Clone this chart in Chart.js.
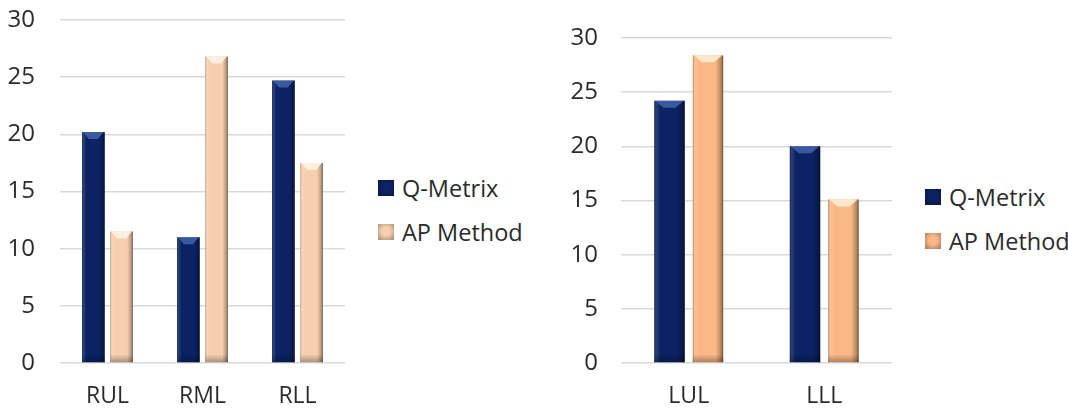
<!DOCTYPE html>
<html>
<head>
<meta charset="utf-8">
<script src="https://cdn.jsdelivr.net/npm/chart.js@4/dist/chart.umd.min.js"></script>
<style>
  html, body { margin: 0; padding: 0; background: #fff; }
  #wrap { position: relative; width: 1068px; height: 413px; overflow: hidden; font-family: 'Open Sans', sans-serif; color: #2b2b2b; }
  .box { position: absolute; top: 0; height: 413px; }
  .legend { position: absolute; font-size: 23.5px; line-height: 30px; }
  .legend div { position: relative; height: 30px; padding-left: 24px; white-space: nowrap; }
  .legend span { position: absolute; left: 0; top: 7px; width: 16px; height: 16px; }
</style>
</head>
<body>
<div id="wrap">
  <div class="box" style="left:0;width:360px"><canvas id="chartRight"></canvas></div>
  <div class="box" style="left:555px;width:350px"><canvas id="chartLeft"></canvas></div>
  <div class="legend" id="legendRight" style="left:378px;top:173px"></div>
  <div class="legend" id="legendLeft" style="left:925px;top:182px"></div>
</div>
<script>
/* données */
var seriesNames = ['Q-Metrix', 'AP Method'];
var yTickStep = 5;
var yMax = 30;

var rightLungLobes = ['RUL', 'RML', 'RLL'];
var rightQMetrix = [20.2, 11.0, 24.7];
var rightAPMethod = [11.5, 26.8, 17.5];

var leftLungLobes = ['LUL', 'LLL'];
var leftQMetrix = [24.2, 20.0];
var leftAPMethod = [28.4, 15.1];

(function () {
  var navy = '#0b2364';
  var textColor = '#2b2b2b';

  // effet "biseau" façon Excel, posé sur chaque barre après le dessin
  var bevel = {
    id: 'bevel',
    afterDatasetsDraw: function (chart) {
      var ctx = chart.ctx;
      chart.data.datasets.forEach(function (ds, i) {
        chart.getDatasetMeta(i).data.forEach(function (bar) {
          var p = bar.getProps(['x', 'y', 'base', 'width'], true);
          var l = p.x - p.width / 2, r = p.x + p.width / 2, t = p.y, b = p.base, w = p.width;
          ctx.save();
          var g = ctx.createLinearGradient(l, 0, r, 0);
          g.addColorStop(0, 'rgba(0,0,0,0.3)');
          g.addColorStop(0.07, 'rgba(255,255,255,0.12)');
          g.addColorStop(0.2, 'rgba(255,255,255,0)');
          g.addColorStop(0.75, 'rgba(0,0,0,0)');
          g.addColorStop(0.92, 'rgba(0,0,0,0.25)');
          g.addColorStop(1, 'rgba(0,0,0,0.55)');
          ctx.fillStyle = g;
          ctx.fillRect(l, t, w, b - t);
          // pied plus sombre
          var gb = ctx.createLinearGradient(0, b - 8, 0, b);
          gb.addColorStop(0, 'rgba(0,0,0,0)');
          gb.addColorStop(1, 'rgba(0,0,0,0.3)');
          ctx.fillStyle = gb;
          ctx.fillRect(l, b - 8, w, 8);
          // chevron clair en haut
          ctx.beginPath();
          ctx.moveTo(l + 1, t);
          ctx.lineTo(r - 1, t);
          ctx.lineTo(r - w * 0.3, t + 7);
          ctx.lineTo(l + w * 0.3, t + 7);
          ctx.closePath();
          ctx.fillStyle = ds.topColor;
          ctx.fill();
          ctx.restore();
        });
      });
    }
  };

  function makeChart(id, labels, qData, apData, apColor, apTop, o) {
    return new Chart(document.getElementById(id), {
      type: 'bar',
      data: {
        labels: labels,
        datasets: [
          { label: seriesNames[0], data: qData, backgroundColor: navy, topColor: 'rgba(90,125,200,0.6)',
            barPercentage: o.barPct, categoryPercentage: o.catPct },
          { label: seriesNames[1], data: apData, backgroundColor: apColor, topColor: apTop,
            barPercentage: o.barPct, categoryPercentage: o.catPct }
        ]
      },
      options: {
        responsive: true,
        maintainAspectRatio: false,
        animation: false,
        layout: { padding: o.padding },
        plugins: { legend: { display: false }, tooltip: { enabled: false } },
        scales: {
          x: {
            grid: { display: false, drawTicks: false },
            border: { display: false },
            ticks: { color: textColor, padding: 20, font: { size: 23 } },
            afterFit: function (s) { s.height = o.xHeight; s.paddingLeft = 0; s.paddingRight = 0; }
          },
          y: {
            min: 0, max: yMax,
            grid: { color: '#d9d9d9', lineWidth: 1.5, drawTicks: false },
            border: { display: false },
            ticks: { stepSize: yTickStep, color: textColor, padding: o.tickPad, font: { size: 24 } },
            afterFit: function (s) { s.width = o.yWidth; s.paddingTop = 0; s.paddingBottom = 0; }
          }
        }
      },
      plugins: [bevel]
    });
  }

  function legend(id, apColor) {
    var colors = [navy, apColor];
    var el = document.getElementById(id);
    seriesNames.forEach(function (name, i) {
      var d = document.createElement('div');
      if (i > 0) d.style.marginTop = '14px';
      var s = document.createElement('span');
      s.style.background = 'radial-gradient(circle at 50% 45%, ' + colors[i] + ' 35%, rgba(0,0,0,0.35) 100%), ' + colors[i];
      d.appendChild(s);
      d.appendChild(document.createTextNode(name));
      el.appendChild(d);
    });
  }

  Chart.defaults.font.family = "'Open Sans', sans-serif";

  makeChart('chartRight', rightLungLobes, rightQMetrix, rightAPMethod, '#f8cfae', 'rgba(255,245,232,0.85)',
    { barPct: 0.8, catPct: 0.594, tickPad: 25, yWidth: 52, xHeight: 49,
      padding: { left: 8, right: 15, top: 20, bottom: 1 } });
  makeChart('chartLeft', leftLungLobes, leftQMetrix, leftAPMethod, '#fbb886', 'rgba(255,236,210,0.9)',
    { barPct: 0.79, catPct: 0.568, tickPad: 23, yWidth: 50, xHeight: 49,
      padding: { left: 16, right: 13, top: 38, bottom: 1 } });

  legend('legendRight', '#f8cfae');
  legend('legendLeft', '#fbb886');
})();
</script>
</body>
</html>
